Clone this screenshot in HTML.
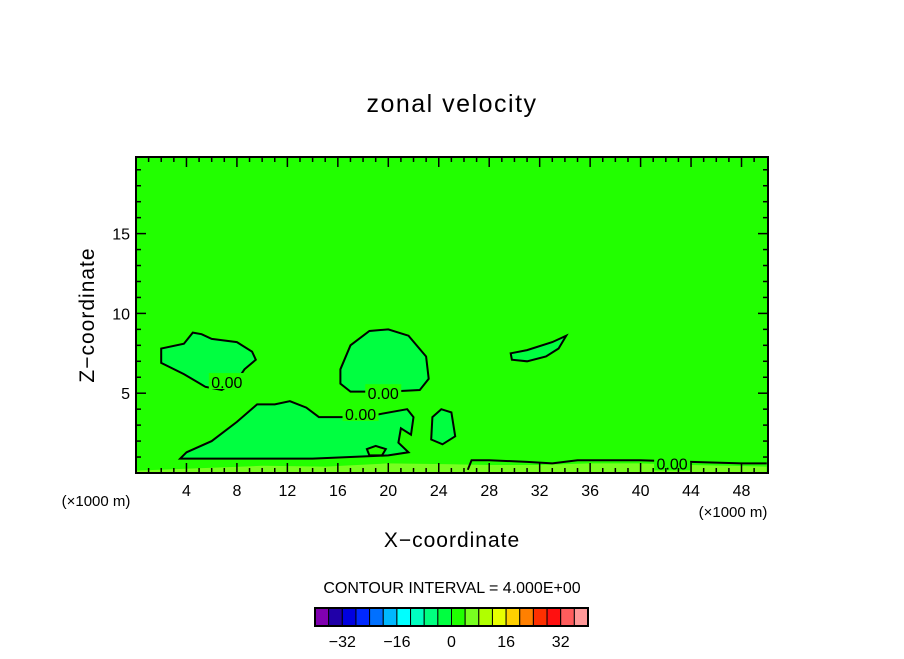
<!DOCTYPE html>
<html><head><meta charset="utf-8"><style>
body{margin:0;background:#fff;width:904px;height:654px;overflow:hidden}
svg text{font-family:"Liberation Sans","DejaVu Sans",sans-serif;fill:#000}
</style></head><body>
<svg id="c" width="904" height="654" xmlns="http://www.w3.org/2000/svg">
<text x="452" y="112" font-size="25" letter-spacing="1.5" text-anchor="middle">zonal velocity</text>
<g id="plot"></g>
<text x="452" y="547" font-size="21" letter-spacing="1" text-anchor="middle">X−coordinate</text>
<text x="94" y="315" font-size="21" letter-spacing="1" text-anchor="middle" transform="rotate(-90 94 315)">Z−coordinate</text>
<text x="96" y="506" font-size="15" text-anchor="middle">(×1000 m)</text>
<text x="733" y="517" font-size="15" text-anchor="middle">(×1000 m)</text>
<text x="452" y="593" font-size="16" text-anchor="middle">CONTOUR INTERVAL = 4.000E+00</text>
<g id="cbar"></g>
</svg>
<script>
const xTicks=[4,8,12,16,20,24,28,32,36,40,44,48];
const yTicks=[5,10,15];
const barColors=["#8000b0","#2000a8","#0000e0","#0028ff","#0070ff","#00b8ff","#00ffff","#00ffc0","#00ff80","#00ff40","#20ff00","#78ff20","#b0ff00","#e8ff00","#ffd000","#ff8000","#ff3000","#ff1010","#ff5c5c","#ff9898"];
const barLabels=[-32,-16,0,16,32];
const blobA=[[3.8,8.1],[4.5,8.8],[5.2,8.7],[6,8.4],[8,8.2],[9.2,7.6],[9.5,7.1],[8.6,6.5],[8,5.8],[6.8,5.2],[5.5,5.4],[3.8,6.2],[2,6.9],[2,7.8]];
const blobB=[[16.2,6.5],[17,8],[18.5,8.9],[20,9],[21.6,8.6],[23,7.3],[23.2,5.9],[22.5,5.2],[20,5.1],[17,5.1],[16.2,5.6]];
const blobC=[[4,1.3],[6,2],[8,3.2],[9.6,4.3],[11,4.3],[12.2,4.5],[13.5,4.1],[14.5,3.5],[18,3.5],[21.5,4],[22,3.5],[21.8,2.4],[21,2.8],[20.8,1.9],[21.6,1.3],[20,1.1],[17,1.0],[14,0.9],[10,0.9],[6,0.9],[3.5,0.9]];
const blobD=[[23.5,3.5],[24.2,4],[25,3.8],[25.3,2.3],[24.3,1.8],[23.4,2.1]];
const blobE=[[29.7,7.5],[31,7.7],[33,8.2],[34.1,8.6],[33.5,7.8],[32.5,7.3],[31,7],[29.8,7.1]];
const blobF=[[18.3,1.5],[19,1.7],[19.8,1.5],[19.5,1.1],[18.5,1.1]];
const lowBand=[[0,0.15],[5,0.3],[10,0.45],[15,0.4],[20,0.6],[25,0.55],[28,0.5],[32,0.5],[36,0.6],[40,0.6],[44,0.5],[50,0.4],[50,0],[0,0]];
const lowLine=[[26.3,0.2],[26.6,0.8],[28,0.8],[31,0.7],[33,0.6],[35,0.8],[40,0.8],[44,0.7],[48,0.6],[50,0.6]];
const labels=[[7.2,5.7,"0.00"],[19.6,5.0,"0.00"],[17.8,3.7,"0.00"],[42.5,0.6,"0.00"]];
const X0=136,X1=768,Y0=473,Y1=157,xMax=50.1,yMax=19.8;
const sx=v=>X0+v/xMax*(X1-X0), sy=v=>Y0-v/yMax*(Y0-Y1);
const NS="http://www.w3.org/2000/svg";
function mk(t,a,p){const e=document.createElementNS(NS,t);for(const k in a)e.setAttribute(k,a[k]);p.appendChild(e);return e;}
const plot=document.getElementById('plot');
const bg=mk('rect',{x:X0,y:Y1,width:X1-X0,height:Y0-Y1,fill:"#22ff00"},plot);

function poly(pts,fill,stroke,name){const d=pts.map((p,i)=>(i?'L':'M')+sx(p[0]).toFixed(1)+','+sy(p[1]).toFixed(1)).join('')+'Z';
const e=mk('path',{d:d,fill:fill,stroke:stroke,'stroke-width':2},plot);
}
poly(lowBand,"#78ff20","none","low-band");
poly(blobA,"#00ff40","#000","contour-region-a");
poly(blobB,"#00ff40","#000","contour-region-b");
poly(blobC,"#00ff40","#000","contour-region-c");
poly(blobD,"#00ff40","#000","contour-region-d");
poly(blobE,"#00ff40","#000","contour-region-e");
poly(blobF,"#22ff00","#000","contour-region-f");
const pl=mk('polyline',{points:lowLine.map(p=>sx(p[0])+','+sy(p[1])).join(' '),fill:"none",stroke:"#000","stroke-width":2},plot);

labels.forEach(l=>{const r=mk('rect',{x:sx(l[0])-18,y:sy(l[1])-9,width:36,height:16,fill:"#22ff00"},plot);

const t=mk('text',{x:sx(l[0]),y:sy(l[1])+6,'font-size':16,'text-anchor':'middle'},plot);t.textContent=l[2];
});
const fr=mk('rect',{x:X0,y:Y1,width:X1-X0,height:Y0-Y1,fill:"none",stroke:"#000","stroke-width":2},plot);

for(let v=1;v<50;v++){const big=v%4==0;mk('line',{x1:sx(v),x2:sx(v),y1:Y0,y2:Y0-(big?10:5),stroke:"#000","stroke-width":1.5},plot);mk('line',{x1:sx(v),x2:sx(v),y1:Y1,y2:Y1+(big?10:5),stroke:"#000","stroke-width":1.5},plot);}
for(let v=1;v<20;v++){const big=v%5==0;mk('line',{x1:X0,x2:X0+(big?10:5),y1:sy(v),y2:sy(v),stroke:"#000","stroke-width":1.5},plot);mk('line',{x1:X1,x2:X1-(big?10:5),y1:sy(v),y2:sy(v),stroke:"#000","stroke-width":1.5},plot);}
xTicks.forEach(v=>{const t=mk('text',{x:sx(v),y:Y0+23,'font-size':16,'text-anchor':'middle'},plot);t.textContent=v;
});
yTicks.forEach(v=>{const t=mk('text',{x:X0-6,y:sy(v)+6,'font-size':16,'text-anchor':'end'},plot);t.textContent=v;
});
const cb=document.getElementById('cbar');const B0=315,B1=588,bw=(B1-B0)/barColors.length;
barColors.forEach((c,i)=>{const r=mk('rect',{x:B0+i*bw,y:608,width:bw,height:18,fill:c,stroke:"#000","stroke-width":1},cb);
});
mk('rect',{x:B0,y:608,width:B1-B0,height:18,fill:"none",stroke:"#000","stroke-width":2},cb);
barLabels.forEach(v=>{const t=mk('text',{x:B0+(v+40)/80*(B1-B0),y:647,'font-size':16,'text-anchor':'middle'},cb);t.textContent=v<0?'−'+(-v):v;
});
</script>
</body></html>
